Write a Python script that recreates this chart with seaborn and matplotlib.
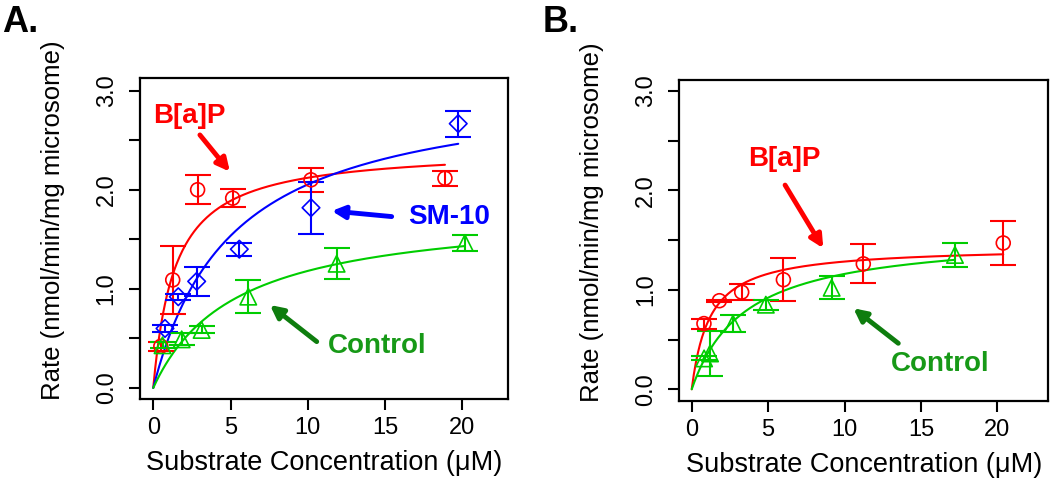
import numpy as np
import seaborn as sns
import matplotlib.pyplot as plt

# Panel A: mean rate, error and Michaelis-Menten fit (Vmax, Km) per treatment
a_bap_x = [0.49, 1.26, 2.87, 5.14, 10.21, 18.88]
a_bap_y = [0.42, 1.09, 2.00, 1.915, 2.10, 2.116]
a_bap_err = [0.045, 0.34, 0.146, 0.092, 0.12, 0.077]
a_bap_fit = (2.42, 1.41)

a_sm10_x = [0.76, 1.62, 2.81, 5.57, 10.21, 19.74]
a_sm10_y = [0.60, 0.92, 1.075, 1.40, 1.818, 2.667]
a_sm10_err = [0.035, 0.03, 0.143, 0.067, 0.264, 0.131]
a_sm10_fit = (3.10, 5.10)

a_ctrl_x = [0.60, 1.84, 3.13, 6.15, 11.87, 20.17]
a_ctrl_y = [0.43, 0.49, 0.585, 0.921, 1.253, 1.463]
a_ctrl_err = [0.03, 0.06, 0.035, 0.168, 0.156, 0.081]
a_ctrl_fit = (1.81, 5.33)

# Panel B
b_bap_x = [0.80, 1.81, 3.27, 6.00, 11.23, 20.39]
b_bap_y = [0.66, 0.89, 0.976, 1.101, 1.26, 1.47]
b_bap_err = [0.05, 0.01, 0.079, 0.214, 0.195, 0.22]
b_bap_fit = (1.435, 1.18)

b_ctrl_x = [0.81, 1.20, 2.70, 4.85, 9.16, 17.23]
b_ctrl_y = [0.31, 0.36, 0.66, 0.85, 1.02, 1.35]
b_ctrl_err = [0.02, 0.23, 0.085, 0.05, 0.117, 0.118]
b_ctrl_fit = (1.565, 3.50)

x_ticks = [0, 5, 10, 15, 20]
y_ticks = [0, 0.5, 1.0, 1.5, 2.0, 2.5, 3.0]
y_ticklabels = ['0.0', '', '1.0', '', '2.0', '', '3.0']

RED = '#ff0000'
BLUE = '#0000ff'
GREEN = '#00cd00'
GREEN_TXT = '#179917'
GREEN_ARR = '#0e7d0e'

sns.set_style('ticks')
plt.rcParams['font.family'] = ['Liberation Sans', 'DejaVu Sans']
for key in ['text.color', 'axes.labelcolor', 'xtick.color', 'ytick.color']:
    plt.rcParams[key] = 'black'

fig = plt.figure(figsize=(10.5, 4.87), dpi=100)
ax_a = fig.add_axes([0.1333, 0.1801, 0.3505, 0.6598])
ax_b = fig.add_axes([0.6470, 0.1772, 0.3514, 0.6585])


def draw_series(ax, x, y, err, fit, color, marker, size):
    vmax, km = fit
    xs = np.linspace(0, max(x), 300)
    sns.lineplot(x=xs, y=vmax * xs / (km + xs), ax=ax, color=color, lw=1.5, zorder=2)
    ax.errorbar(x, y, yerr=err, fmt='none', ecolor=color, elinewidth=1.5,
                capsize=9.5, capthick=1.5, zorder=3)
    sns.scatterplot(x=x, y=y, ax=ax, marker=marker, s=size, color=color,
                    facecolor='none', edgecolor=color, linewidth=1.2, zorder=4)


def style_axes(ax, xlim, ylim):
    ax.set_xlim(*xlim)
    ax.set_ylim(*ylim)
    ax.set_xticks(x_ticks)
    ax.set_yticks(y_ticks)
    ax.set_yticklabels(y_ticklabels, rotation=90, va='center')
    ax.tick_params(axis='both', direction='out', length=8, width=1.5,
                   labelsize=17, color='black', labelcolor='black')
    ax.tick_params(axis='x', pad=5)
    ax.tick_params(axis='y', pad=8)
    for sp in ax.spines.values():
        sp.set_visible(True)
        sp.set_linewidth(1.6)
        sp.set_color('black')
    ax.set_xlabel('Substrate Concentration (μM)', fontsize=19.5, labelpad=8)
    ax.set_ylabel('Rate (nmol/min/mg microsome)', fontsize=18.5)
    ax.yaxis.set_label_coords(-0.205, 0.558)


def label_arrow(ax, text, txy, start, end, tcolor, acolor):
    ax.text(*txy, text, color=tcolor, fontsize=20, fontweight='bold',
            ha='center', va='center')
    ax.annotate('', xy=end, xytext=start,
                arrowprops=dict(arrowstyle='-|>', lw=3.5, color=acolor,
                                mutation_scale=19, shrinkA=0, shrinkB=0))


draw_series(ax_a, a_bap_x, a_bap_y, a_bap_err, a_bap_fit, RED, 'o', 100)
draw_series(ax_a, a_sm10_x, a_sm10_y, a_sm10_err, a_sm10_fit, BLUE, 'D', 80)
draw_series(ax_a, a_ctrl_x, a_ctrl_y, a_ctrl_err, a_ctrl_fit, GREEN, '^', 140)
style_axes(ax_a, (-0.86, 22.96), (-0.115, 3.128))
label_arrow(ax_a, 'B[a]P', (2.31, 2.745), (3.02, 2.553), (4.96, 2.182), RED, RED)
label_arrow(ax_a, 'SM-10', (19.14, 1.729), (15.43, 1.729), (11.55, 1.786), BLUE, BLUE)
label_arrow(ax_a, 'Control', (14.51, 0.424), (10.58, 0.467), (7.55, 0.837), GREEN_TXT, GREEN_ARR)

draw_series(ax_b, b_bap_x, b_bap_y, b_bap_err, b_bap_fit, RED, 'o', 100)
draw_series(ax_b, b_ctrl_x, b_ctrl_y, b_ctrl_err, b_ctrl_fit, GREEN, '^', 140)
style_axes(ax_b, (-0.81, 23.34), (-0.115, 3.108))
label_arrow(ax_b, 'B[a]P', (6.04, 2.319), (6.11, 2.052), (8.61, 1.417), RED, RED)
label_arrow(ax_b, 'Control', (16.25, 0.254), (13.52, 0.462), (10.58, 0.814), GREEN_TXT, GREEN_ARR)

fig.text(0.002, 0.935, 'A.', fontsize=26, fontweight='bold', ha='left', va='baseline')
fig.text(0.517, 0.935, 'B.', fontsize=26, fontweight='bold', ha='left', va='baseline')

fig.savefig('out.png', dpi=100)
